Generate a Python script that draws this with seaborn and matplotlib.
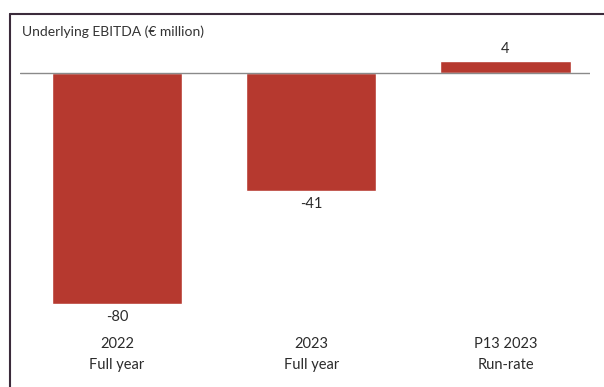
import matplotlib
matplotlib.use("Agg")
import matplotlib.pyplot as plt
import seaborn as sns
import pandas as pd
from matplotlib.lines import Line2D

categories = ["2022\nFull year", "2023\nFull year", "P13 2023\nRun-rate"]
values = [-80, -41, 4]
value_labels = ["-80", "-41", "4"]
title = "Underlying EBITDA (€ million)"

sns.set_style("white")
plt.rcParams["font.family"] = ["Lato", "DejaVu Sans"]

W, H = 604, 387
fig = plt.figure(figsize=(W / 100, H / 100), dpi=100)

# axes in pixel terms
x0, x1 = 20, 590
y_top, y_bot = 14, 325
ax = fig.add_axes([x0 / W, 1 - y_bot / H, (x1 - x0) / W, (y_bot - y_top) / H])

df = pd.DataFrame({"cat": categories, "val": values})
sns.barplot(data=df, x="cat", y="val", color="#b6392f", saturation=1, width=0.67, ax=ax)

ppu = 2.89
zero_px = 73
ax.set_ylim(-(y_bot - zero_px) / ppu, (zero_px - y_top) / ppu)
ax.set_xlim(-0.5, 2 + (590 - 505.5) / 194.25)
ax.axhline(0, color="#8a8a8a", lw=1, zorder=3)

for side in ax.spines.values():
    side.set_visible(False)
ax.set_yticks([])
ax.set_xlabel("")
ax.set_ylabel("")
ax.tick_params(axis="x", length=0, pad=9, labelsize=10.5, labelcolor="#2b2b2b")
for lbl in ax.get_xticklabels():
    lbl.set_linespacing(1.55)

ax.bar_label(ax.containers[0], labels=value_labels, padding=4, fontsize=10.5, color="#2b2b2b")

# frame
fig.add_artist(Line2D([10 / W, 1], [1 - 14 / H, 1 - 14 / H], transform=fig.transFigure, color="#3b2b3b", lw=1.5))
fig.add_artist(Line2D([10 / W, 10 / W], [0, 1 - 14 / H], transform=fig.transFigure, color="#3b2b3b", lw=1.5))

fig.text(22 / W, 1 - 32 / H, title, fontsize=10, color="#333333", va="center", ha="left")

fig.savefig("out.png", dpi=100, facecolor="white")
